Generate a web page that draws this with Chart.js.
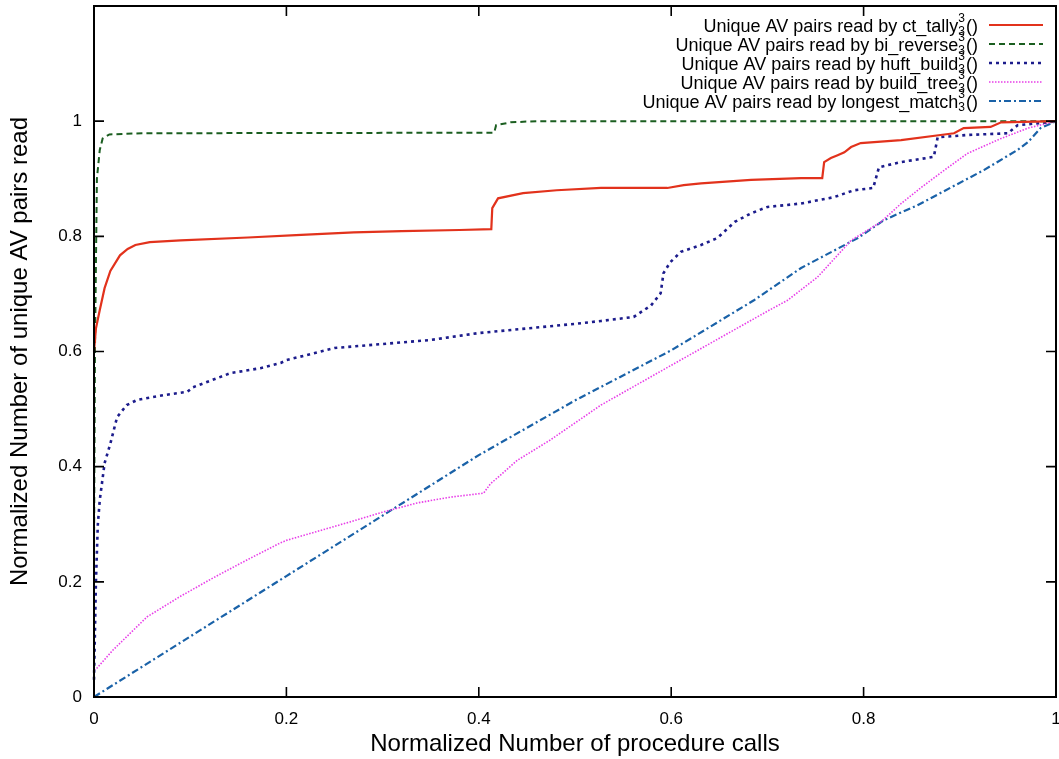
<!DOCTYPE html>
<html>
<head>
<meta charset="utf-8">
<script src="https://cdn.jsdelivr.net/npm/chart.js@4/dist/chart.umd.min.js"></script>
<style>
  body { margin: 0; background: #fff; }
  #wrap { width: 1059px; height: 759px; }
</style>
</head>
<body>
<div id="wrap"><canvas id="avChart" width="1059" height="759"></canvas></div>
<script>
// tick values
const xTicks = [0, 0.2, 0.4, 0.6, 0.8, 1];
const yTicks = [0, 0.2, 0.4, 0.6, 0.8, 1];

// series: [normalized procedure calls, normalized unique AV pairs]
const ctTally = [[0,0.60],[0.002,0.64],[0.006,0.672],[0.011,0.71],[0.017,0.74],[0.027,0.767],[0.035,0.778],[0.043,0.785],[0.058,0.79],[0.09,0.793],[0.16,0.798],[0.21,0.802],[0.27,0.807],[0.32,0.809],[0.38,0.811],[0.413,0.8125],[0.414,0.849],[0.42,0.866],[0.446,0.875],[0.481,0.88],[0.527,0.884],[0.596,0.884],[0.613,0.889],[0.631,0.892],[0.683,0.898],[0.735,0.901],[0.757,0.901],[0.759,0.929],[0.766,0.936],[0.773,0.941],[0.78,0.946],[0.787,0.955],[0.797,0.962],[0.839,0.967],[0.88,0.976],[0.894,0.979],[0.904,0.988],[0.932,0.99],[0.943,0.998],[1,1]];
const biReverse = [[0,0.25],[0.001,0.6],[0.003,0.9],[0.006,0.95],[0.009,0.97],[0.016,0.977],[0.05,0.979],[0.416,0.98],[0.418,0.993],[0.433,0.998],[0.46,1],[1,1]];
const huftBuild = [[0,0.03],[0.002,0.2],[0.004,0.3],[0.006,0.342],[0.011,0.406],[0.017,0.44],[0.024,0.486],[0.034,0.507],[0.045,0.516],[0.072,0.524],[0.097,0.53],[0.103,0.538],[0.142,0.5625],[0.173,0.571],[0.194,0.58],[0.2,0.585],[0.25,0.606],[0.3,0.613],[0.35,0.62],[0.4,0.632],[0.45,0.64],[0.5,0.648],[0.527,0.653],[0.561,0.66],[0.579,0.68],[0.589,0.701],[0.592,0.736],[0.599,0.755],[0.61,0.773],[0.631,0.785],[0.648,0.797],[0.657,0.811],[0.666,0.825],[0.683,0.84],[0.7,0.851],[0.735,0.857],[0.769,0.868],[0.79,0.88],[0.81,0.884],[0.816,0.92],[0.839,0.929],[0.873,0.938],[0.877,0.972],[0.908,0.976],[0.95,0.979],[0.96,0.993],[0.992,0.998],[1,1]];
const buildTree = [[0,0.047],[0.003,0.05],[0.02,0.082],[0.055,0.139],[0.089,0.174],[0.124,0.207],[0.159,0.238],[0.193,0.267],[0.2,0.272],[0.266,0.304],[0.3,0.321],[0.336,0.337],[0.37,0.347],[0.405,0.354],[0.412,0.37],[0.44,0.411],[0.474,0.446],[0.527,0.507],[0.6,0.576],[0.65,0.623],[0.7,0.67],[0.721,0.689],[0.752,0.729],[0.787,0.793],[0.818,0.825],[0.839,0.857],[0.86,0.885],[0.884,0.915],[0.908,0.944],[0.943,0.97],[0.971,0.988],[1,1]];
const longestMatch = [[0,0],[0.1,0.105],[0.2,0.21],[0.3,0.315],[0.4,0.42],[0.5,0.515],[0.6,0.602],[0.686,0.689],[0.735,0.745],[0.794,0.797],[0.821,0.828],[0.856,0.854],[0.891,0.885],[0.925,0.915],[0.96,0.95],[0.971,0.964],[0.984,0.988],[1,1]];

const names = ['ct_tally', 'bi_reverse', 'huft_build', 'build_tree', 'longest_match'];
const colors = ['#e2321c', '#1b5e20', '#1c1c8c', '#e83ee8', '#1a62a8'];
const dashes = [[], [6, 4], [3, 4], [1.5, 1.5], [7, 3, 2, 3]];
const widths = [2.2, 2, 2.6, 1.6, 2.2];

const FONT = "'Liberation Sans', Arial, Helvetica, sans-serif";

const toPts = arr => arr.map(p => ({ x: p[0], y: p[1] }));
const fmt = v => String(+v.toFixed(2));

// inward tick marks + frame, like the gnuplot original
const frameTicks = {
    id: 'frameTicks',
    afterDraw(chart) {
        const { ctx, chartArea: a, scales: { x, y } } = chart;
        ctx.save();
        ctx.strokeStyle = '#000';
        ctx.lineWidth = 2;
        ctx.strokeRect(a.left, a.top, a.right - a.left, a.bottom - a.top);
        ctx.lineWidth = 1.6;
        ctx.beginPath();
        xTicks.forEach(v => {
            const px = x.getPixelForValue(v);
            ctx.moveTo(px, a.bottom); ctx.lineTo(px, a.bottom - 10);
            ctx.moveTo(px, a.top); ctx.lineTo(px, a.top + 10);
        });
        yTicks.forEach(v => {
            const py = y.getPixelForValue(v);
            ctx.moveTo(a.left, py); ctx.lineTo(a.left + 10, py);
            ctx.moveTo(a.right, py); ctx.lineTo(a.right - 10, py);
        });
        ctx.stroke();
        ctx.restore();
    }
};

// legend drawn gnuplot style: right aligned text, sample line on the right
const keyBox = {
    id: 'keyBox',
    afterDraw(chart) {
        const { ctx } = chart;
        const textRight = 978, lineL = 989, lineR = 1043;
        ctx.save();
        names.forEach((name, i) => {
            const cy = 27 + i * 19;
            const main = 'Unique AV pairs read by ' + name;
            ctx.font = '18px ' + FONT;
            const wMain = ctx.measureText(main).width;
            const wPar = ctx.measureText('()').width;
            ctx.font = '12px ' + FONT;
            const wSup = ctx.measureText('3').width;
            const xs = textRight - (wMain + wSup + wPar + 1);
            ctx.fillStyle = '#000';
            ctx.textBaseline = 'middle';
            ctx.textAlign = 'left';
            ctx.font = '18px ' + FONT;
            ctx.fillText(main, xs, cy);
            ctx.font = '12px ' + FONT;
            ctx.fillText('3', xs + wMain, cy - 8);
            ctx.fillText('3', xs + wMain, cy + 5);
            ctx.font = '18px ' + FONT;
            ctx.fillText('()', xs + wMain + wSup + 1, cy);
            ctx.strokeStyle = colors[i];
            ctx.lineWidth = widths[i];
            ctx.setLineDash(dashes[i]);
            ctx.beginPath();
            ctx.moveTo(lineL, cy - 2);
            ctx.lineTo(lineR, cy - 2);
            ctx.stroke();
        });
        ctx.restore();
    }
};

const series = [ctTally, biReverse, huftBuild, buildTree, longestMatch];

new Chart(document.getElementById('avChart'), {
    type: 'scatter',
    data: {
        datasets: series.map((s, i) => ({
            label: names[i],
            data: toPts(s),
            showLine: true,
            borderColor: colors[i],
            backgroundColor: colors[i],
            borderWidth: widths[i],
            borderDash: dashes[i],
            pointRadius: 0,
            tension: 0,
            clip: 4
        }))
    },
    options: {
        responsive: false,
        animation: false,
        layout: { autoPadding: false, padding: { top: 6, right: 3, bottom: 0, left: 0 } },
        plugins: { legend: { display: false }, tooltip: { enabled: false } },
        scales: {
            x: {
                type: 'linear', min: 0, max: 1,
                grid: { display: false, drawTicks: false },
                border: { display: false },
                afterBuildTicks: s => { s.ticks = xTicks.map(v => ({ value: v })); },
                afterFit: s => { s.height = 62; s.paddingLeft = 0; s.paddingRight = 0; },
                ticks: { color: '#000', padding: 12, font: { family: FONT, size: 17 }, maxRotation: 0, callback: fmt },
                title: { display: true, text: 'Normalized Number of procedure calls', color: '#000',
                         font: { family: FONT, size: 24 }, padding: { top: 0, bottom: 0 } }
            },
            y: {
                type: 'linear', min: 0, max: 1.2,
                grid: { display: false, drawTicks: false },
                border: { display: false },
                afterBuildTicks: s => { s.ticks = yTicks.map(v => ({ value: v })); },
                afterFit: s => { s.width = 94; s.paddingTop = 0; s.paddingBottom = 0; },
                ticks: { color: '#000', padding: 12, font: { family: FONT, size: 17 }, callback: fmt },
                title: { display: true, text: 'Normalized Number of unique AV pairs read', color: '#000',
                         font: { family: FONT, size: 24 }, padding: { top: 6, bottom: 0 } }
            }
        }
    },
    plugins: [frameTicks, keyBox]
});
</script>
</body>
</html>
